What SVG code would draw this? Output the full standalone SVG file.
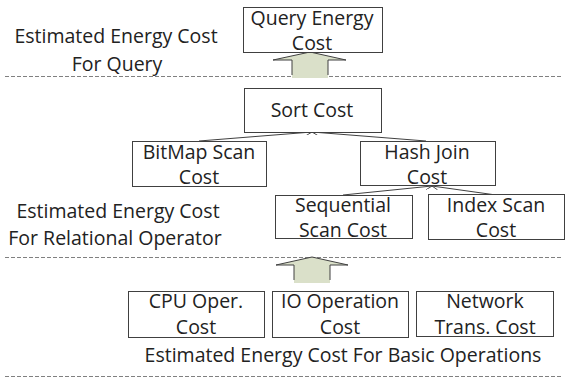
<svg xmlns="http://www.w3.org/2000/svg" width="568" height="379" viewBox="0 0 568 379">
<defs>
<style>
text{font-family:"Open Sans","Liberation Sans",sans-serif;font-size:19.5px;fill:#222;text-anchor:middle}
.box{fill:#fff;stroke:#404040;stroke-width:1}
.dash{stroke:#808080;stroke-width:1;stroke-dasharray:4,2;fill:none}
.conn{stroke:#404040;stroke-width:1;fill:none;marker-end:url(#open)}
.afill{fill:#dae0c9;stroke:none}
.aline{fill:none;stroke:#404040;stroke-width:1}
</style>
<marker id="open" viewBox="0 0 10 10" refX="10" refY="5" markerWidth="6" markerHeight="6" orient="auto" markerUnits="userSpaceOnUse">
<path d="M0,0 L10,5 L0,10" fill="none" stroke="#404040" stroke-width="1.5"/>
</marker>
</defs>
<rect width="568" height="379" fill="#fff"/>

<g id="separators">
<line class="dash" x1="5" y1="76.5" x2="563" y2="76.5"/>
<line class="dash" x1="5" y1="257.5" x2="563" y2="257.5"/>
<line class="dash" x1="5" y1="376.5" x2="563" y2="376.5"/>
</g>

<g id="labels">
<text x="116" y="43">Estimated Energy Cost</text>
<text x="117" y="71">For Query</text>
<text x="118" y="218">Estimated Energy Cost</text>
<text x="115" y="245">For Relational Operator</text>
<text x="343" y="362">Estimated Energy Cost For Basic Operations</text>
</g>

<g id="arrows">
<polygon class="afill" points="310,52 273,60 292,60 292,78 328,78 328,60 346,60"/>
<polyline class="aline" points="292,75 292,60 273,60 310,52 346,60 328,60 328,75"/>
<polygon class="afill" points="312,257 276,265 294,265 294,283 330,283 330,265 348,265"/>
<polyline class="aline" points="294,280 294,265 276,265 312,257 348,265 330,265 330,280"/>
</g>

<g id="connectors">
<line class="conn" x1="199" y1="141" x2="312" y2="132"/>
<line class="conn" x1="426" y1="141" x2="312" y2="132"/>
<line class="conn" x1="343" y1="195" x2="432" y2="186"/>
<line class="conn" x1="496" y1="195" x2="432" y2="186"/>
</g>

<g id="query">
<rect class="box" x="243.5" y="7.5" width="139" height="45"/>
<text x="312" y="25">Query Energy</text>
<text x="312" y="50">Cost</text>
</g>
<g id="sort">
<rect class="box" x="244.5" y="88.5" width="137" height="44"/>
<text x="312" y="117">Sort Cost</text>
</g>
<g id="bitmap">
<rect class="box" x="132.5" y="141.5" width="134" height="45"/>
<text x="199" y="159">BitMap Scan</text>
<text x="199" y="184">Cost</text>
</g>
<g id="hashjoin">
<rect class="box" x="360.5" y="141.5" width="135" height="44"/>
<text x="427" y="159">Hash Join</text>
<text x="427" y="184">Cost</text>
</g>
<g id="sequential">
<rect class="box" x="275.5" y="195.5" width="137" height="43"/>
<text x="343" y="212">Sequential</text>
<text x="343" y="237">Scan Cost</text>
</g>
<g id="indexscan">
<rect class="box" x="428.5" y="194.5" width="136" height="45"/>
<text x="496" y="212">Index Scan</text>
<text x="496" y="237">Cost</text>
</g>
<g id="cpu">
<rect class="box" x="128.5" y="291.5" width="136" height="46"/>
<text x="196" y="308">CPU Oper.</text>
<text x="196" y="334">Cost</text>
</g>
<g id="io">
<rect class="box" x="272.5" y="291.5" width="136" height="46"/>
<text x="340" y="308">IO Operation</text>
<text x="340" y="334">Cost</text>
</g>
<g id="network">
<rect class="box" x="416.5" y="291.5" width="137" height="45"/>
<text x="485" y="308">Network</text>
<text x="485" y="334">Trans. Cost</text>
</g>
</svg>
